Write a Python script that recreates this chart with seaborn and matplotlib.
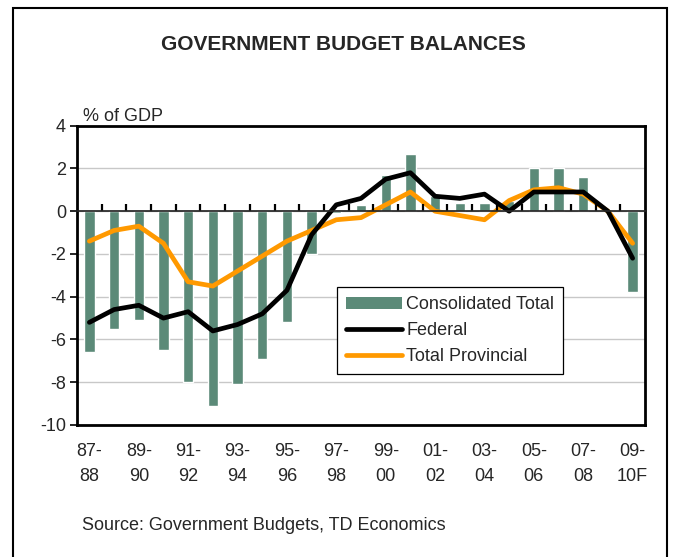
import matplotlib
matplotlib.use("Agg")
import matplotlib.pyplot as plt
import matplotlib.patches as mpatches
from matplotlib.lines import Line2D
import seaborn as sns
import pandas as pd
import numpy as np

# Fiscal years
years = ["87-88", "88-89", "89-90", "90-91", "91-92", "92-93", "93-94", "94-95",
         "95-96", "96-97", "97-98", "98-99", "99-00", "00-01", "01-02", "02-03",
         "03-04", "04-05", "05-06", "06-07", "07-08", "08-09", "09-10F"]

# Budget balances, % of GDP
consolidated = [-6.6, -5.5, -5.1, -6.5, -8.0, -9.1, -8.1, -6.9, -5.2, -2.0, -0.1, 0.3,
                1.7, 2.7, 0.7, 0.4, 0.4, 0.5, 2.0, 2.0, 1.6, 0.0, -3.8]
federal = [-5.2, -4.6, -4.4, -5.0, -4.7, -5.6, -5.3, -4.8, -3.7, -1.1, 0.3, 0.6,
           1.5, 1.8, 0.7, 0.6, 0.8, 0.0, 0.9, 0.9, 0.9, 0.0, -2.2]
provincial = [-1.4, -0.9, -0.7, -1.5, -3.3, -3.5, -2.8, -2.1, -1.4, -0.9, -0.4, -0.3,
              0.3, 0.9, 0.0, -0.2, -0.4, 0.5, 1.0, 1.1, 0.8, 0.0, -1.5]

# Two-line labels shown under every other year
tick_labels = ["87-\n88", "89-\n90", "91-\n92", "93-\n94", "95-\n96", "97-\n98",
               "99-\n00", "01-\n02", "03-\n04", "05-\n06", "07-\n08", "09-\n10F"]

series_names = ["Consolidated Total", "Federal", "Total Provincial"]
bar_color = "#5B8A78"
fed_color = "#000000"
prov_color = "#FF9900"

sns.set_theme(style="white")
plt.rcParams["font.family"] = ["Liberation Sans", "DejaVu Sans"]

df = pd.DataFrame({
    "year": years,
    "pos": np.arange(len(years)),
    "consolidated": consolidated,
    "federal": federal,
    "provincial": provincial,
})

fig = plt.figure(figsize=(6.78, 5.57), dpi=100)
ax = fig.add_axes([0.1136, 0.237, 0.8377, 0.5373])

# Horizontal gridlines
for yv in range(-10, 5, 2):
    ax.axhline(yv, color="#C8C8C8", lw=1.0, zorder=0)

sns.barplot(data=df, x="year", y="consolidated", color=bar_color, width=0.42,
            saturation=1, ax=ax, zorder=2)
sns.lineplot(data=df, x="pos", y="federal", color=fed_color, lw=3.4, ax=ax,
             zorder=4)
sns.lineplot(data=df, x="pos", y="provincial", color=prov_color, lw=3.4, ax=ax,
             zorder=3)

ax.set_xlim(-0.5, len(years) - 0.5)
ax.set_ylim(-10, 4)
ax.set_xlabel("")
ax.set_ylabel("")

# Frame
for sp in ax.spines.values():
    sp.set_visible(True)
    sp.set_color("black")
    sp.set_linewidth(2.0)

# Y axis ticks
ax.set_yticks(range(-10, 5, 2))
ax.set_yticklabels([str(v) for v in range(-10, 5, 2)], fontsize=13)
ax.tick_params(axis="y", direction="out", length=5, width=1.2, color="black",
               left=True, pad=3)

# X labels at the bottom, every other year
ax.set_xticks(np.arange(0, len(years), 2))
ax.set_xticklabels(tick_labels, fontsize=13, linespacing=1.6)
ax.tick_params(axis="x", length=0, pad=13, bottom=True)

# Zero axis line with category-boundary ticks
zero_frac = (0 - (-10)) / (4 - (-10))
sec = ax.secondary_xaxis(zero_frac)
sec.set_xticks(np.arange(0.5, len(years) - 1, 1.0))
sec.set_xticklabels([])
sec.tick_params(axis="x", direction="out", length=5, width=1.6, color="black")
sec.spines["bottom"].set_linewidth(2.0)
sec.spines["bottom"].set_color("black")
sec.set_zorder(5)

# Legend
handles = [
    mpatches.Patch(facecolor=bar_color, edgecolor="none"),
    Line2D([], [], color=fed_color, lw=3.4),
    Line2D([], [], color=prov_color, lw=3.4),
]
leg = ax.legend(handles, series_names, loc="upper left",
                bbox_to_anchor=(0.457, 0.461), fontsize=13, frameon=True,
                fancybox=False, edgecolor="black", framealpha=1,
                handlelength=3.1, handleheight=0.65, handletextpad=0.25,
                labelspacing=0.5, borderpad=0.5, borderaxespad=0)
leg.get_frame().set_linewidth(0.9)

# Titles and notes
fig.text(0.507, 0.921, "GOVERNMENT BUDGET BALANCES", ha="center", va="center",
         fontsize=15, fontweight="bold")
fig.text(0.123, 0.776, "% of GDP", ha="left", va="bottom", fontsize=13)
fig.text(0.121, 0.057, "Source: Government Budgets, TD Economics", ha="left",
         va="center", fontsize=13)

# Outer border
border = mpatches.Rectangle((13 / 678, -0.05), (667 - 13) / 678, 1.05 - 8 / 557,
                            transform=fig.transFigure, fill=False,
                            edgecolor="black", lw=1.5, clip_on=False)
fig.patches.append(border)

fig.savefig("out.png", dpi=100)
